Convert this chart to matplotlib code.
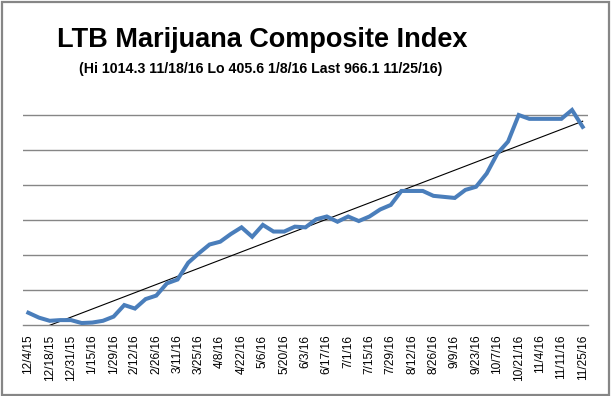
import numpy as np
import matplotlib
matplotlib.use("Agg")
import matplotlib.pyplot as plt
from matplotlib.patches import Rectangle

# weekly index values
values = [435, 421, 412, 414, 414, 405.6, 407, 412, 424, 457,
          447, 474, 484, 519, 530, 578, 605, 630, 638, 660,
          679, 652, 686, 667, 667, 681, 679, 702, 710, 695,
          710, 697, 710, 730, 743, 783, 783, 783, 769, 766,
          763, 786, 795, 833, 890, 924, 1000, 989, 989, 989,
          989, 1014.3, 966.1]

# every other category is labelled
tick_labels = ['12/4/15', '12/18/15', '12/31/15', '1/15/16', '1/29/16', '2/12/16',
               '2/26/16', '3/11/16', '3/25/16', '4/8/16', '4/22/16', '5/6/16',
               '5/20/16', '6/3/16', '6/17/16', '7/1/16', '7/15/16', '7/29/16',
               '8/12/16', '8/26/16', '9/9/16', '9/23/16', '10/7/16', '10/21/16',
               '11/4/16', '11/11/16', '11/25/16']

title = 'LTB Marijuana Composite Index'
subtitle = '(Hi 1014.3 11/18/16 Lo 405.6 1/8/16 Last 966.1 11/25/16)'

plt.rcParams['font.family'] = ['Liberation Sans', 'DejaVu Sans']

fig = plt.figure(figsize=(6.11, 3.96), dpi=100)
ax = fig.add_axes([23 / 611, (396 - 325) / 396, (588 - 23) / 611, (325 - 80) / 396])

x = np.arange(len(values))
y = np.array(values)

# linear trend line
coef = np.polyfit(x, y, 1)
ax.plot(x, np.polyval(coef, x), color='black', lw=0.8, zorder=3)

ax.plot(x, y, color='#4a7ebb', lw=2.9, solid_joinstyle='miter', zorder=4)

ax.set_xlim(-0.5, len(values) - 0.5)
ax.set_ylim(400, 1100)
ax.set_yticks(np.arange(500, 1001, 100))
ax.yaxis.grid(True, color='#868686', lw=1)
ax.set_axisbelow(True)
ax.tick_params(axis='y', left=False, labelleft=False)

ax.set_xticks(x[::2])
ax.set_xticklabels(tick_labels, rotation=90, fontsize=8.6)
ax.tick_params(axis='x', length=0, pad=7)

for side in ['top', 'right', 'left']:
    ax.spines[side].set_visible(False)
ax.spines['bottom'].set_color('#868686')
ax.spines['bottom'].set_linewidth(1)

fig.text(262 / 611, 1 - 47 / 396, title, ha='center', va='baseline',
         fontsize=19.5, fontweight='bold')
fig.text(261 / 611, 1 - 73.5 / 396, subtitle, ha='center', va='baseline',
         fontsize=10.2, fontweight='bold')

# chart border
fig.patches.append(Rectangle((1.5 / 611, 1.5 / 396), 607.5 / 611, 392.5 / 396,
                             transform=fig.transFigure, fill=False,
                             edgecolor='#868686', lw=1.6))

fig.savefig('out.png', dpi=100)
